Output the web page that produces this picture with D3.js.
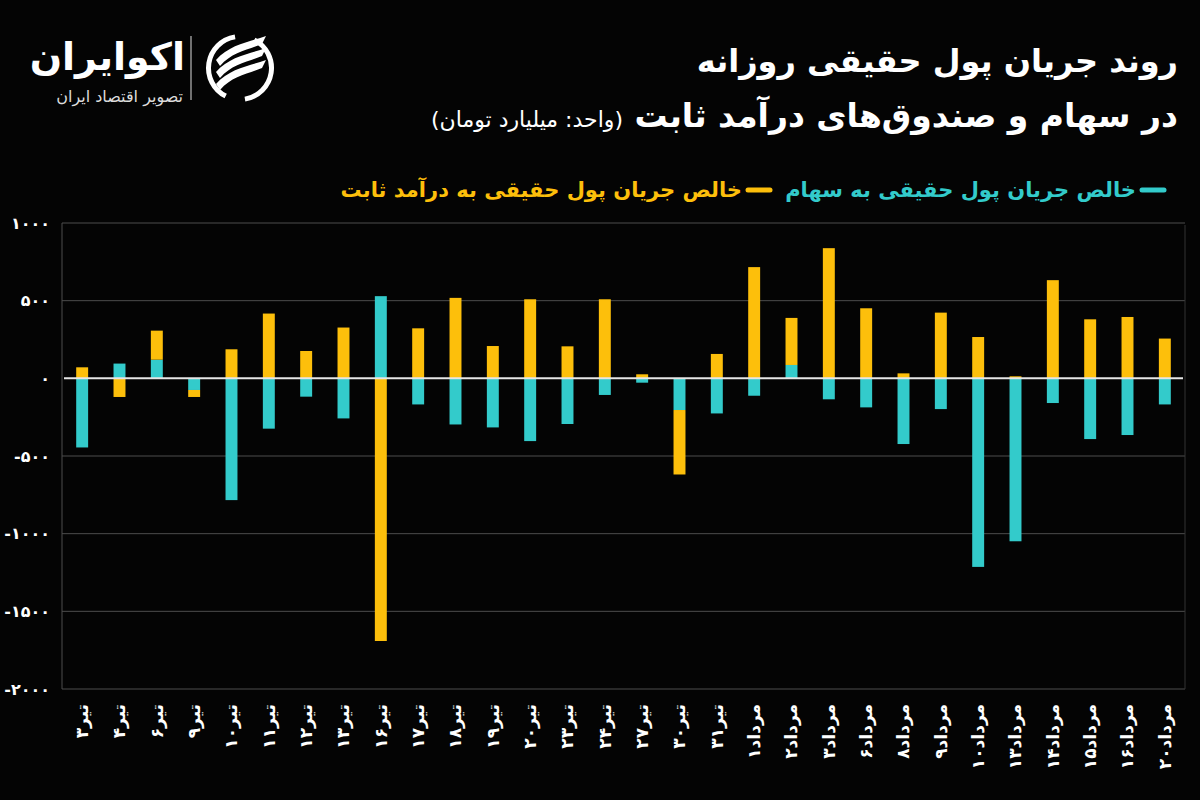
<!DOCTYPE html>
<html><head><meta charset="utf-8">
<script src="https://cdn.jsdelivr.net/npm/d3@7"></script>
<style>
html,body{margin:0;padding:0;background:#040404;}
svg{display:block;}
text{font-family:"DejaVu Sans",sans-serif;}
</style></head>
<body><svg id="c" width="1200" height="800"></svg>
<script>
const categories = ["تیر۳","تیر۴","تیر۶","تیر۹","تیر۱۰","تیر۱۱","تیر۱۲","تیر۱۳","تیر۱۶","تیر۱۷","تیر۱۸","تیر۱۹","تیر۲۰","تیر۲۳","تیر۲۴","تیر۲۷","تیر۳۰","تیر۳۱","مرداد۱","مرداد۲","مرداد۳","مرداد۶","مرداد۸","مرداد۹","مرداد۱۰","مرداد۱۳","مرداد۱۴","مرداد۱۵","مرداد۱۶","مرداد۲۰"];
const stocks = [-445,95,120,-75,-784,-324,-118,-258,529,-168,-297,-316,-404,-294,-107,-28,-204,-226,-112,86,-135,-187,-423,-198,-1214,-1049,-159,-391,-365,-168];
const fixedIncome = [71,-120,187,-45,187,417,176,327,-1691,322,518,208,509,206,509,26,-415,157,716,303,838,451,32,423,266,13,632,380,395,256];
const yTicks = [-2000,-1500,-1000,-500,0,500,1000];
const seriesNames = ["خالص جریان پول حقیقی به سهام","خالص جریان پول حقیقی به درآمد ثابت"];
const titleLine1 = "روند جریان پول حقیقی روزانه";
const titleLine2 = "در سهام و صندوق‌های درآمد ثابت";
const unitText = "(واحد: میلیارد تومان)";

const colors = {stocks:"#33CBCB", fixed:"#FDBF0B"};
const fa = s => String(s).replace(/\d/g, d => "۰۱۲۳۴۵۶۷۸۹"[+d]);

const svg = d3.select("#c");
svg.append("rect").attr("width",1200).attr("height",800).attr("fill","#040404");

// logo
const logo = svg.append("g");
logo.append("text").attr("x",185).attr("y",70).attr("text-anchor","start").attr("direction","rtl")
  .attr("fill","#fff").attr("font-size",38).attr("font-weight","bold").text("اکوایران");
logo.append("text").attr("x",183).attr("y",102).attr("text-anchor","start").attr("direction","rtl")
  .attr("fill","#ddd").attr("font-size",16).text("تصویر اقتصاد ایران");
logo.append("line").attr("x1",191).attr("x2",191).attr("y1",36).attr("y2",100)
  .attr("stroke","#bbb").attr("stroke-width",1.2);
const ic = logo.append("g").attr("transform","translate(240,68)");
ic.append("path").attr("d", d3.arc()({innerRadius:29,outerRadius:34,startAngle:Math.PI*0.15,endAngle:Math.PI*0.95})).attr("fill","#fff");
ic.append("path").attr("d", d3.arc()({innerRadius:29,outerRadius:34,startAngle:Math.PI*1.15,endAngle:Math.PI*1.95})).attr("fill","#fff");
[-14,-2,10].forEach(o=>{
  ic.append("path").attr("d",`M${-24} ${o+6} C ${-10} ${o-10}, ${10} ${o-12}, ${26} ${o-18} L ${22} ${o-10} C ${8} ${o-4}, ${-8} ${o-2}, ${-20} ${o+12} Z`).attr("fill","#fff");
});

// titles
svg.append("text").attr("x",1178).attr("y",72).attr("text-anchor","start").attr("direction","rtl")
  .attr("fill","#fff").attr("font-size",32).attr("font-weight","bold").text(titleLine1);
const t2 = svg.append("text").attr("x",1178).attr("y",127).attr("text-anchor","start").attr("direction","rtl")
  .attr("fill","#fff");
t2.append("tspan").attr("font-size",33).attr("font-weight","bold").text(titleLine2 + " ");
t2.append("tspan").attr("font-size",22).text(unitText);

// legend
const lg = svg.append("g");
lg.append("line").attr("x1",1142).attr("x2",1164).attr("y1",190).attr("y2",190)
  .attr("stroke",colors.stocks).attr("stroke-width",5).attr("stroke-linecap","round");
lg.append("text").attr("x",1136).attr("y",197).attr("text-anchor","start").attr("direction","rtl")
  .attr("fill",colors.stocks).attr("font-size",21).attr("font-weight","bold").text(seriesNames[0]);
lg.append("line").attr("x1",748).attr("x2",770).attr("y1",190).attr("y2",190)
  .attr("stroke",colors.fixed).attr("stroke-width",5).attr("stroke-linecap","round");
lg.append("text").attr("x",742).attr("y",197).attr("text-anchor","start").attr("direction","rtl")
  .attr("fill",colors.fixed).attr("font-size",21).attr("font-weight","bold").text(seriesNames[1]);

// scales
const x = d3.scaleBand().domain(categories).range([62,1185]).paddingInner(0.68).paddingOuter(0.38);
const y = d3.scaleLinear().domain([-2000,1000]).range([689,223]);

// grid
svg.append("g").selectAll("line").data(yTicks.filter(v=>v!==0)).join("line")
  .attr("x1",62).attr("x2",1185).attr("y1",d=>y(d)).attr("y2",d=>y(d))
  .attr("stroke","#4d4d4d").attr("stroke-width",1);
svg.append("line").attr("x1",62).attr("x2",62).attr("y1",y(1000)).attr("y2",y(-2000))
  .attr("stroke","#4d4d4d");
svg.append("line").attr("x1",1185).attr("x2",1185).attr("y1",y(1000)+2).attr("y2",y(-2000))
  .attr("stroke","#333");

// y axis
const yAxis = svg.append("g").attr("transform","translate(53,0)")
  .call(d3.axisLeft(y).tickValues(yTicks).tickSize(0).tickFormat(d=>fa(d)));
yAxis.select(".domain").remove();
yAxis.selectAll("text").attr("fill","#fff").attr("font-size",16).attr("font-weight","bold")
  .attr("font-family","DejaVu Sans").attr("dx",0);

// bars
const rows = categories.map((c,i)=>({cat:c, stocks:stocks[i], fixed:fixedIncome[i]}));
const stack = d3.stack().keys(["stocks","fixed"]).offset(d3.stackOffsetDiverging);
const layers = stack(rows);
svg.append("g").selectAll("g").data(layers).join("g")
  .attr("fill",d=>colors[d.key])
  .selectAll("rect").data(d=>d).join("rect")
  .attr("x",d=>x(d.data.cat)).attr("width",x.bandwidth())
  .attr("y",d=>y(Math.max(d[0],d[1]))).attr("height",d=>Math.abs(y(d[0])-y(d[1])));

// zero line
svg.append("line").attr("x1",64).attr("x2",1183).attr("y1",y(0)).attr("y2",y(0))
  .attr("stroke","#e6e6e6").attr("stroke-width",2);

// x axis labels
const xAxis = svg.append("g").attr("transform","translate(0,704)")
  .call(d3.axisBottom(x).tickSize(0).tickPadding(0));
xAxis.select(".domain").remove();
xAxis.selectAll("text").attr("fill","#fff").attr("font-size",17).attr("font-weight","bold")
  .attr("font-family","DejaVu Sans")
  .attr("transform","rotate(-90)").attr("text-anchor","end").attr("x",0).attr("y",0).attr("dy","0.35em");
</script></body></html>
